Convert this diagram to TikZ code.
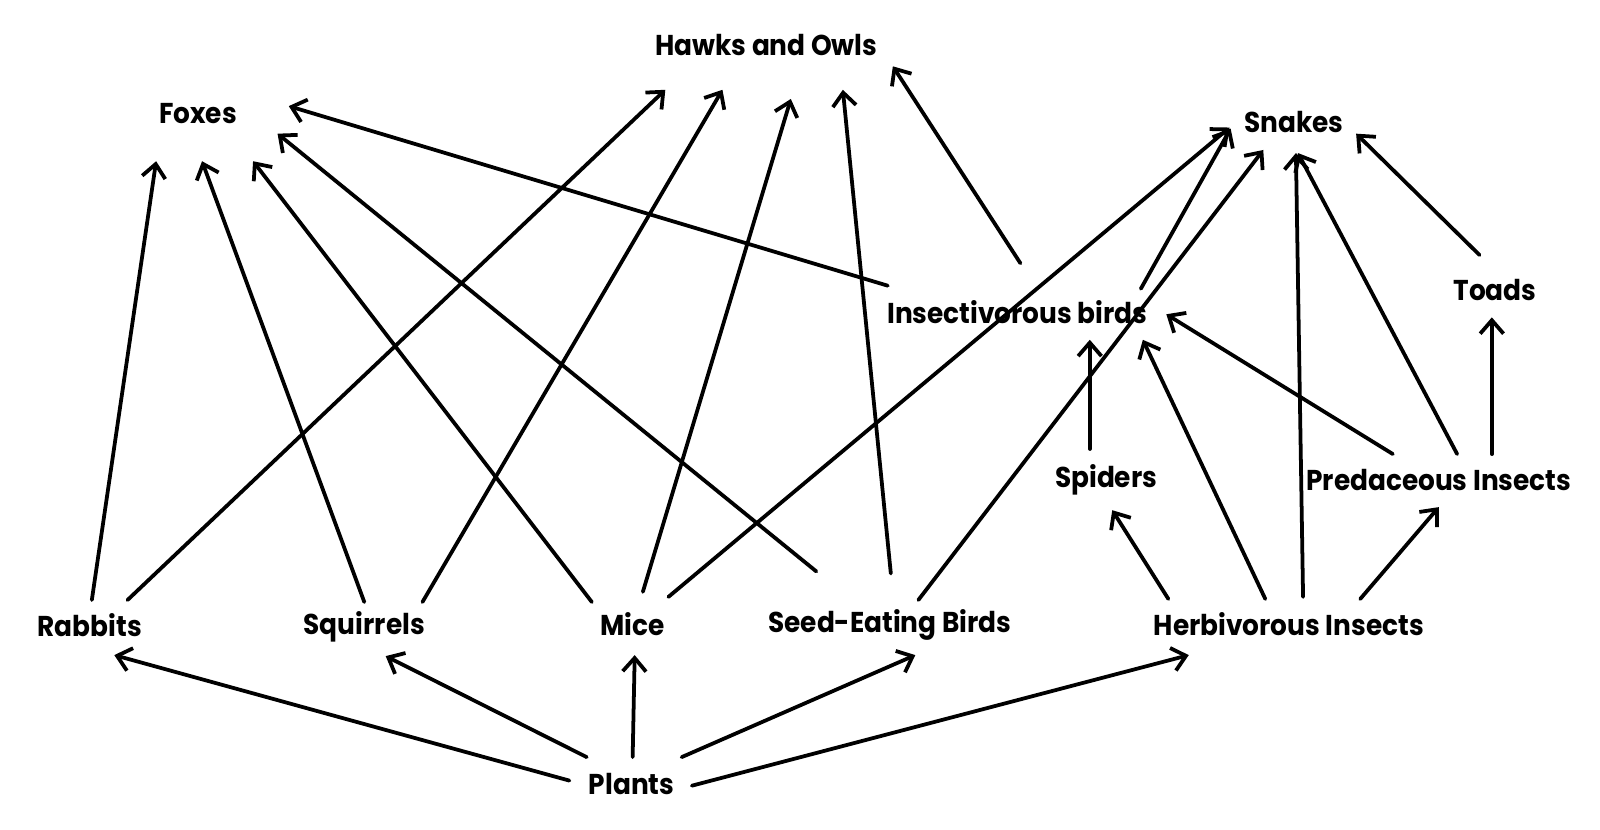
\documentclass[tikz,border=0pt]{standalone}
\usepackage{fontspec}
\newfontfamily\webfont{Poppins}[FakeStretch=0.92]
\usepackage{tikz}
\usetikzlibrary{arrows.meta,positioning}

\begin{document}
\begin{tikzpicture}[x=0.02cm,y=-0.02cm,
  sp/.style={font=\webfont\bfseries\fontsize{16}{19}\selectfont,inner sep=0pt},
  feed/.style={-{Straight Barb[length=7.5pt,width=13pt,line width=2.1pt]},line width=2.1pt,line cap=round}]
  \useasboundingbox (0,0) rectangle (1568,813);
  % species
  \node[sp] (hawks)     at (751,44)  {Hawks and Owls};
  \node[sp] (foxes)     at (194,111) {Foxes};
  \node[sp] (snakes)    at (1268,120) {Snakes};
  \node[sp] (toads)     at (1465,284) {Toads};
  \node[sp] (insbirds)  at (997,306) {Insectivorous birds};
  \node[sp] (spiders)   at (1084,470) {Spiders};
  \node[sp] (predins)   at (1410,470) {Predaceous Insects};
  \node[sp] (rabbits)   at (88,613)  {Rabbits};
  \node[sp] (squirrels) at (357,614) {Squirrels};
  \node[sp] (mice)      at (620,612) {Mice};
  \node[sp] (seedbirds) at (872,612) {Seed-Eating Birds};
  \node[sp] (herbins)   at (1263,612) {Herbivorous Insects};
  \node[sp] (plants)    at (619,768) {Plants};
  % who eats whom
  \foreach \s/\ds/\t/\dt in {
      rabbits/{(2,-25)}/foxes/{(-41,47)}, rabbits/{(37,-25)}/hawks/{(-99,44)},
      squirrels/{(0,-24)}/foxes/{(4,47)}, squirrels/{(57,-24)}/hawks/{(-43,44)},
      mice/{(-40,-22)}/foxes/{(54,47)}, mice/{(10,-32)}/hawks/{(24,53)},
      mice/{(35,-27)}/snakes/{(-63,5)},
      seedbirds/{(-72,-52)}/foxes/{(78,20)}, seedbirds/{(1,-50)}/hawks/{(75,44)},
      seedbirds/{(28,-24)}/snakes/{(-30,27)},
      insbirds/{(-127,-26)}/foxes/{(89,-7)}, insbirds/{(3,-48)}/hawks/{(124,21)},
      insbirds/{(121,-23)}/snakes/{(-62,6)},
      spiders/{(-16,-30)}/insbirds/{(71,27)},
      herbins/{(-23,-25)}/insbirds/{(123,27)}, herbins/{(-118,-25)}/spiders/{(6,30)},
      herbins/{(14,-27)}/snakes/{(2,30)}, herbins/{(70,-25)}/predins/{(0,27)},
      predins/{(-45,-25)}/insbirds/{(146,2)}, predins/{(18,-25)}/snakes/{(4,30)},
      predins/{(52,-25)}/toads/{(-3,27)},
      toads/{(-15,-34)}/snakes/{(61,11)},
      plants/{(-61,-3)}/rabbits/{(24,29)}, plants/{(-44,-26)}/squirrels/{(21,29)},
      plants/{(1,-26)}/mice/{(2,30)}, plants/{(49,-26)}/seedbirds/{(25,30)},
      plants/{(59,2)}/herbins/{(-98,30)}}
    \draw[feed] ([shift={\ds}]\s.center) -- ([shift={\dt}]\t.center);
\end{tikzpicture}
\end{document}
